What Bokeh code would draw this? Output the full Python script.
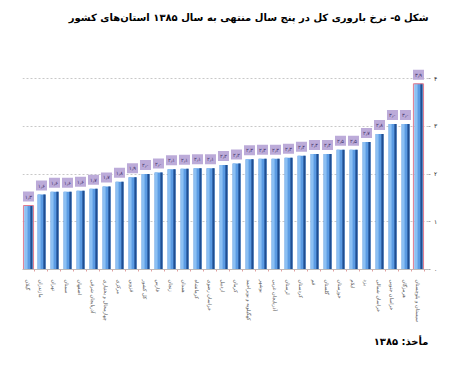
from bokeh.plotting import figure
from bokeh.models import ColumnDataSource, FixedTicker, LinearAxis, Range1d, Title
from bokeh.transform import dodge
from bokeh.embed import file_html
from bokeh.resources import INLINE
from bokeh.core.properties import value

provinces = [
    "گیلان", "مازندران", "تهران", "سمنان", "اصفهان", "آذربایجان شرقی",
    "چهارمحال و بختیاری", "مرکزی", "قزوین", "کل کشور", "فارس", "زنجان",
    "همدان", "کرمانشاه", "خراسان رضوی", "اردبیل", "کرمان",
    "کهگیلویه و بویراحمد", "بوشهر", "آذربایجان غربی", "لرستان", "کردستان",
    "قم", "گلستان", "خوزستان", "ایلام", "یزد", "خراسان شمالی",
    "خراسان جنوبی", "هرمزگان", "سیستان و بلوچستان",
]
tfr = [
    1.34, 1.57, 1.63, 1.63, 1.65, 1.69, 1.74, 1.84, 1.93, 2.00, 2.03, 2.10,
    2.11, 2.12, 2.12, 2.19, 2.22, 2.31, 2.32, 2.32, 2.34, 2.38, 2.42, 2.42,
    2.51, 2.51, 2.67, 2.84, 3.05, 3.05, 3.89,
]
y_ticks = [0, 1, 2, 3, 4]

title_text = "شکل ۵- نرخ باروری کل در پنج سال منتهی به سال ۱۳۸۵ استان‌های کشور"
source_text = "مأخذ: ۱۳۸۵"

fa_digits = str.maketrans("0123456789.", "۰۱۲۳۴۵۶۷۸۹٫")
def fa(s):
    return str(s).translate(fa_digits)

n = len(provinces)
xs = list(range(n))
src = ColumnDataSource(dict(x=xs, v=tfr, lab=[fa(f"{t:.1f}") for t in tfr]))
hi_idx = [tfr.index(min(tfr)), tfr.index(max(tfr))]
hi = ColumnDataSource(dict(x=hi_idx, v=[tfr[i] for i in hi_idx]))

p = figure(width=450, height=380, output_backend="svg", toolbar_location=None,
           x_range=Range1d(-0.46, 30.77), y_range=Range1d(0, 4.21),
           min_border_left=22, min_border_right=22, min_border_top=68,
           min_border_bottom=111, y_axis_location=None)
p.background_fill_color = "white"
p.border_fill_color = "white"
p.outline_line_color = None

# bars with a cylinder-like shading
p.vbar(x="x", top="v", width=0.62, bottom=0, source=src,
       fill_color="#5b9be3", line_color=None)
p.vbar(x=dodge("x", -0.17, range=p.x_range), top="v", width=0.2, bottom=0,
       source=src, fill_color="#8cc0f3", line_color=None)
p.vbar(x=dodge("x", 0.23, range=p.x_range), top="v", width=0.17, bottom=0,
       source=src, fill_color="#1f4e92", line_color=None)
p.vbar(x="x", top="v", width=0.78, bottom=0, source=hi,
       fill_color=None, line_color="#e07a8e", line_width=1)

# value boxes
p.text(x="x", y="v", text="lab", source=src, y_offset=-4,
       text_align="center", text_baseline="bottom",
       text_font=value("DejaVu Sans"), text_font_size="5px",
       text_color="#3b2b66", background_fill_color="#bcabd9",
       padding=2)

# grid
p.xgrid.grid_line_color = None
p.ygrid.ticker = FixedTicker(ticks=y_ticks[1:])
p.ygrid.grid_line_color = "#c8c8c8"
p.ygrid.grid_line_dash = "2 2"

# right axis
ax = LinearAxis(ticker=FixedTicker(ticks=y_ticks))
ax.major_label_overrides = {t: fa(t) for t in y_ticks}
ax.major_label_text_font_size = "6px"
ax.major_label_text_color = "#222222"
ax.axis_line_color = None
ax.major_tick_line_color = "#aaaaaa"
ax.major_tick_out = 2
ax.major_tick_in = 0
ax.minor_tick_line_color = None
ax.major_label_standoff = 3
p.add_layout(ax, "right")

# bottom axis
xa = p.xaxis[0]
xa.ticker = FixedTicker(ticks=xs, minor_ticks=[i + 0.5 for i in range(-1, n)])
xa.major_label_overrides = {i: name for i, name in enumerate(provinces)}
xa.major_label_orientation = "vertical"
xa.major_label_text_font = "DejaVu Sans"
xa.major_label_text_font_size = "5px"
xa.major_label_text_color = "#555555"
xa.major_label_standoff = 4
xa.axis_line_color = "#bbbbbb"
xa.major_tick_line_color = None
xa.minor_tick_line_color = "#e0a0a0"
xa.minor_tick_out = 2
xa.minor_tick_in = 0

p.title.visible = False
# spacer between frame and the caption
p.add_layout(Title(text=" ", text_font_size="35px", standoff=0), "above")
p.add_layout(Title(text=title_text, align="right", text_font="DejaVu Sans",
                   text_font_style="bold", text_font_size="10px",
                   text_color="black", standoff=10), "above")
p.add_layout(Title(text=source_text, align="right", text_font="DejaVu Sans",
                   text_font_style="bold", text_font_size="10px",
                   text_color="black", standoff=19), "below")

open("out.html", "w").write(file_html(p, INLINE))
